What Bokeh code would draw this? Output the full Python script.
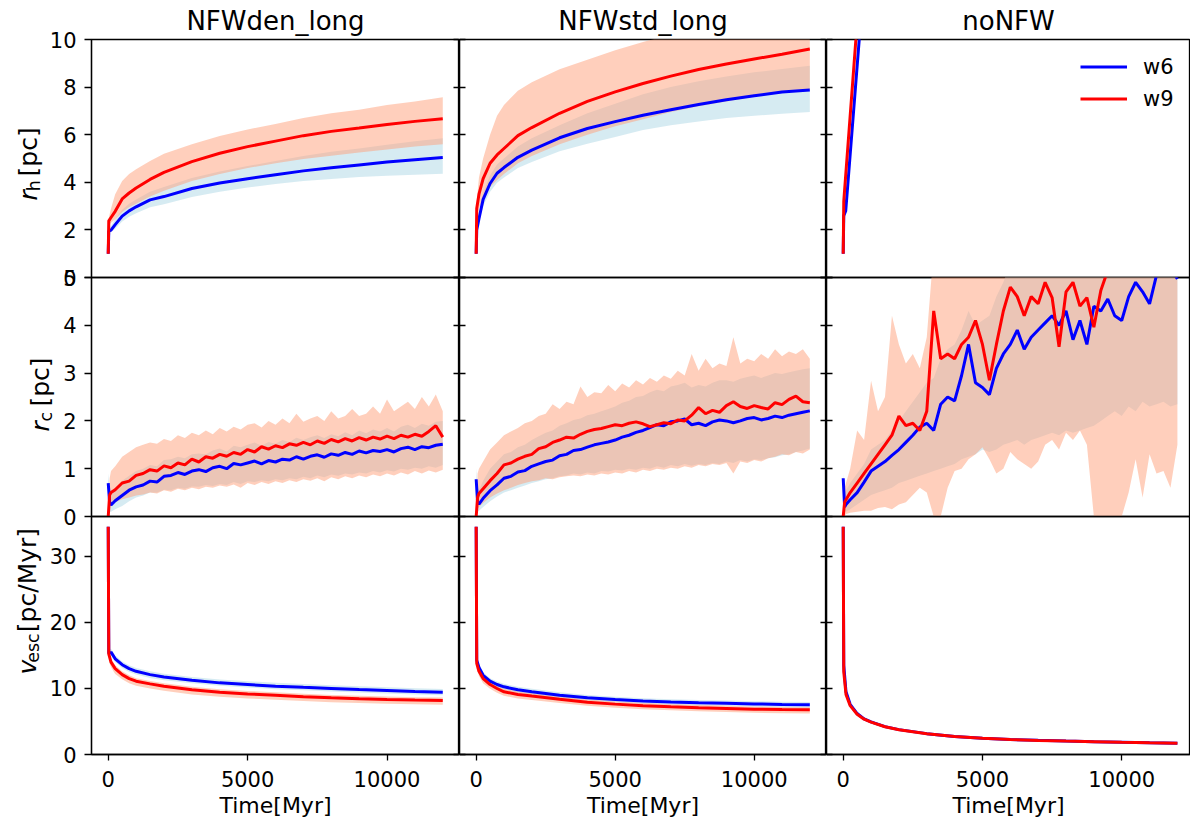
import numpy as np
from bokeh.plotting import figure
from bokeh.layouts import row, column
from bokeh.models import Range1d, FixedTicker, LinearAxis, Legend, LegendItem
from bokeh.core.properties import value
from bokeh.embed import file_html
from bokeh.resources import INLINE

FONT = "DejaVu Sans"

# ---------------- data ----------------
TITLES = ["NFWden_long", "NFWstd_long", "noNFW"]
X_TICKS = [0, 5000, 10000]
Y_TICKS = [[0, 2, 4, 6, 8, 10], [0, 1, 2, 3, 4, 5], [0, 10, 20, 30]]
Y_MAX = [10, 5, 36.05]
X_LABEL = "Time[Myr]"
LEGEND_LABELS = ["w6", "w9"]

# time grids (Myr)
T_S = [0, 20, 100, 250, 500, 750, 1000, 1500, 2000, 3000, 4000, 5000, 6000, 7000, 8000, 9000, 10000, 11000, 12000]
T_RC = [0, 50, 100] + list(range(250, 12001, 250))
T_RH_NO = [0, 20, 90, 1000]

# half-mass radius r_h [pc]
RH_DEN_W6 = [1.0, 1.95, 1.99, 2.22, 2.58, 2.80, 2.97, 3.26, 3.40, 3.74, 3.97, 4.15, 4.32, 4.48, 4.61, 4.73, 4.85, 4.95, 5.04]
RH_DEN_W6_LO = [1.0, 1.9, 1.9, 2.05, 2.35, 2.55, 2.7, 2.95, 3.08, 3.38, 3.6, 3.78, 3.93, 4.05, 4.14, 4.22, 4.28, 4.32, 4.36]
RH_DEN_W6_HI = [1.0, 2.1, 2.15, 2.45, 2.85, 3.1, 3.28, 3.6, 3.8, 4.18, 4.45, 4.68, 4.9, 5.1, 5.28, 5.42, 5.58, 5.72, 5.85]
RH_DEN_W9 = [1.0, 2.38, 2.52, 2.78, 3.3, 3.55, 3.76, 4.12, 4.42, 4.87, 5.22, 5.5, 5.73, 5.96, 6.14, 6.28, 6.43, 6.56, 6.67]
RH_DEN_W9_LO = [1.0, 2.2, 2.3, 2.45, 2.75, 2.95, 3.1, 3.4, 3.65, 4.05, 4.35, 4.6, 4.8, 4.98, 5.12, 5.25, 5.38, 5.5, 5.6]
RH_DEN_W9_HI = [1.0, 2.5, 2.9, 3.5, 4.05, 4.35, 4.55, 4.9, 5.2, 5.6, 5.95, 6.22, 6.45, 6.7, 6.9, 7.05, 7.25, 7.4, 7.57]

RH_STD_W6 = [1.0, 2.0, 2.47, 3.28, 3.95, 4.38, 4.62, 5.05, 5.35, 5.87, 6.26, 6.55, 6.82, 7.05, 7.27, 7.47, 7.64, 7.79, 7.88]
RH_STD_W6_LO = [1.0, 1.9, 2.3, 3.0, 3.6, 3.98, 4.2, 4.6, 4.85, 5.3, 5.62, 5.9, 6.2, 6.4, 6.55, 6.7, 6.8, 6.88, 6.95]
RH_STD_W6_HI = [1.0, 2.2, 2.7, 3.55, 4.3, 4.75, 5.0, 5.5, 5.85, 6.4, 6.9, 7.3, 7.7, 8.0, 8.25, 8.45, 8.62, 8.76, 8.9]
RH_STD_W9 = [1.0, 2.9, 3.5, 4.15, 4.8, 5.15, 5.42, 5.96, 6.3, 6.9, 7.4, 7.8, 8.15, 8.46, 8.74, 8.97, 9.18, 9.38, 9.6]
RH_STD_W9_LO = [1.0, 2.6, 2.9, 3.3, 3.8, 4.1, 4.35, 4.8, 5.1, 5.6, 6.0, 6.35, 6.65, 6.95, 7.2, 7.4, 7.6, 7.75, 7.9]
RH_STD_W9_HI = [1.0, 3.2, 4.2, 5.0, 6.0, 6.8, 7.25, 7.85, 8.2, 8.75, 9.15, 9.55, 9.9, 10.2, 10.5, 10.75, 10.95, 11.15, 11.35]

RH_NO_W6 = [1.0, 2.6, 2.8, 16.3]
RH_NO_W6_LO = [1.0, 2.45, 2.6, 15.6]
RH_NO_W6_HI = [1.0, 2.75, 3.0, 17.0]
RH_NO_W9 = [1.0, 3.2, 4.3, 18.5]
RH_NO_W9_LO = [1.0, 3.0, 4.05, 17.8]
RH_NO_W9_HI = [1.0, 3.4, 4.55, 19.2]

# core radius r_c [pc]
RC_DEN_W6 = [0.70, 0.30, 0.24, 0.33, 0.44, 0.55, 0.62, 0.66, 0.74, 0.72, 0.84, 0.86, 0.92, 0.88, 0.95, 0.98, 0.94, 1.02, 1.05, 1.00, 1.11, 1.08, 1.12, 1.16, 1.10, 1.17, 1.14, 1.20, 1.18, 1.25, 1.20, 1.26, 1.29, 1.24, 1.31, 1.28, 1.34, 1.30, 1.37, 1.33, 1.38, 1.36, 1.40, 1.35, 1.42, 1.45, 1.40, 1.46, 1.44, 1.49, 1.51]
RC_DEN_W6_LO = [0.2, 0.1, 0.1, 0.15, 0.22, 0.32, 0.40, 0.44, 0.50, 0.50, 0.56, 0.55, 0.60, 0.58, 0.63, 0.62, 0.66, 0.64, 0.68, 0.66, 0.72, 0.68, 0.74, 0.72, 0.76, 0.74, 0.78, 0.76, 0.80, 0.78, 0.83, 0.80, 0.86, 0.82, 0.88, 0.85, 0.90, 0.88, 0.92, 0.90, 0.95, 0.92, 0.97, 0.94, 1.0, 0.98, 1.02, 1.0, 1.05, 1.02, 1.08]
RC_DEN_W6_HI = [0.9, 0.6, 0.5, 0.6, 0.75, 0.85, 0.95, 1.0, 1.08, 1.05, 1.18, 1.2, 1.25, 1.22, 1.3, 1.32, 1.3, 1.38, 1.42, 1.36, 1.48, 1.45, 1.5, 1.55, 1.48, 1.56, 1.52, 1.6, 1.56, 1.65, 1.6, 1.66, 1.7, 1.64, 1.72, 1.68, 1.76, 1.7, 1.8, 1.74, 1.82, 1.78, 1.85, 1.78, 1.88, 1.92, 1.85, 1.94, 1.9, 1.98, 2.0]
RC_DEN_W9 = [0.0, 0.45, 0.50, 0.56, 0.70, 0.74, 0.86, 0.90, 0.98, 0.95, 1.06, 1.02, 1.12, 1.08, 1.20, 1.14, 1.25, 1.22, 1.30, 1.26, 1.34, 1.30, 1.40, 1.35, 1.46, 1.41, 1.48, 1.44, 1.52, 1.49, 1.55, 1.50, 1.58, 1.53, 1.61, 1.56, 1.63, 1.58, 1.65, 1.60, 1.66, 1.62, 1.68, 1.63, 1.70, 1.66, 1.72, 1.68, 1.78, 1.90, 1.66]
RC_DEN_W9_LO = [0.0, 0.2, 0.25, 0.30, 0.36, 0.40, 0.44, 0.46, 0.50, 0.48, 0.55, 0.52, 0.58, 0.55, 0.60, 0.57, 0.62, 0.60, 0.65, 0.62, 0.67, 0.60, 0.70, 0.66, 0.72, 0.68, 0.74, 0.70, 0.76, 0.72, 0.78, 0.75, 0.80, 0.74, 0.82, 0.78, 0.84, 0.80, 0.86, 0.82, 0.88, 0.84, 0.90, 0.86, 0.92, 0.88, 0.95, 0.90, 0.96, 0.92, 0.98]
RC_DEN_W9_HI = [0.0, 0.8, 0.95, 1.05, 1.25, 1.35, 1.45, 1.50, 1.55, 1.52, 1.62, 1.58, 1.70, 1.64, 1.75, 1.70, 1.80, 1.72, 1.85, 1.78, 1.88, 1.82, 1.92, 1.95, 1.86, 2.0, 1.92, 2.05, 1.95, 2.15, 1.98, 2.05, 2.1, 2.0, 2.2, 2.05, 2.1, 2.25, 2.1, 2.15, 2.3, 2.15, 2.45, 2.2, 2.3, 2.4, 2.25, 2.5, 2.3, 2.55, 2.2]

RC_STD_W6 = [0.78, 0.30, 0.26, 0.38, 0.54, 0.66, 0.80, 0.84, 0.93, 0.96, 1.05, 1.10, 1.15, 1.18, 1.27, 1.30, 1.38, 1.40, 1.45, 1.50, 1.53, 1.56, 1.60, 1.66, 1.70, 1.76, 1.80, 1.86, 1.92, 1.90, 1.98, 2.00, 2.04, 1.92, 1.95, 1.90, 1.98, 2.02, 2.00, 1.96, 2.00, 2.05, 2.07, 2.02, 2.05, 2.10, 2.07, 2.12, 2.15, 2.18, 2.21]
RC_STD_W6_LO = [0.5, 0.1, 0.12, 0.2, 0.32, 0.42, 0.5, 0.55, 0.6, 0.65, 0.7, 0.74, 0.78, 0.8, 0.84, 0.86, 0.9, 0.88, 0.92, 0.9, 0.95, 0.94, 0.98, 0.96, 1.0, 0.98, 1.02, 1.0, 1.05, 1.02, 1.08, 1.05, 1.1, 1.06, 1.1, 1.08, 1.12, 1.1, 1.15, 1.12, 1.18, 1.15, 1.2, 1.18, 1.22, 1.24, 1.28, 1.3, 1.35, 1.38, 1.42]
RC_STD_W6_HI = [1.0, 0.6, 0.55, 0.75, 1.0, 1.15, 1.3, 1.35, 1.45, 1.5, 1.6, 1.68, 1.75, 1.8, 1.9, 1.95, 2.02, 2.05, 2.12, 2.15, 2.2, 2.25, 2.3, 2.38, 2.42, 2.5, 2.52, 2.6, 2.65, 2.62, 2.72, 2.75, 2.8, 2.7, 2.75, 2.72, 2.8, 2.85, 2.85, 2.82, 2.88, 2.92, 2.95, 2.9, 2.95, 3.0, 2.98, 3.02, 3.05, 3.08, 3.1]
RC_STD_W9 = [0.0, 0.40, 0.48, 0.58, 0.75, 0.90, 1.08, 1.12, 1.20, 1.26, 1.30, 1.42, 1.46, 1.55, 1.60, 1.66, 1.64, 1.72, 1.78, 1.82, 1.84, 1.88, 1.92, 1.90, 1.95, 1.98, 1.94, 1.88, 1.92, 1.96, 1.94, 2.02, 2.0, 2.12, 2.28, 2.15, 2.22, 2.18, 2.32, 2.40, 2.30, 2.26, 2.32, 2.28, 2.25, 2.38, 2.34, 2.45, 2.52, 2.40, 2.38]
RC_STD_W9_LO = [0.0, 0.15, 0.2, 0.28, 0.40, 0.48, 0.55, 0.60, 0.66, 0.70, 0.74, 0.76, 0.80, 0.78, 0.82, 0.84, 0.86, 0.84, 0.88, 0.86, 0.90, 0.88, 0.92, 0.90, 0.95, 0.92, 0.98, 0.95, 1.0, 0.98, 1.02, 1.0, 1.05, 1.02, 1.08, 1.05, 1.10, 1.08, 1.12, 0.90, 1.15, 1.12, 1.18, 1.15, 1.22, 1.25, 1.30, 1.28, 1.35, 1.32, 1.40]
RC_STD_W9_HI = [0.0, 0.9, 1.0, 1.15, 1.40, 1.55, 1.70, 1.78, 1.85, 1.95, 2.0, 2.10, 2.15, 2.35, 2.25, 2.40, 2.35, 2.72, 2.50, 2.60, 2.58, 2.75, 2.62, 2.78, 2.70, 2.85, 2.76, 2.90, 2.82, 2.95, 2.88, 3.05, 2.95, 3.40, 3.05, 3.30, 3.10, 3.20, 3.15, 3.75, 3.20, 3.30, 3.25, 3.40, 3.30, 3.50, 3.35, 3.45, 3.40, 3.50, 3.30]

RC_NO_W6 = [0.8, 0.2, 0.25, 0.35, 0.5, 0.72, 0.95, 1.05, 1.15, 1.28, 1.4, 1.55, 1.7, 1.87, 1.95, 1.8, 2.35, 2.5, 2.42, 2.95, 3.6, 2.8, 2.7, 2.55, 3.1, 3.4, 3.6, 3.9, 3.5, 3.75, 3.9, 4.05, 4.2, 4.0, 4.3, 3.7, 4.1, 3.6, 4.4, 4.3, 4.55, 4.2, 4.1, 4.6, 4.9, 4.7, 4.45, 5.05, 5.1, 5.2, 4.97]
RC_NO_W6_LO = [0.5, 0.1, 0.1, 0.15, 0.25, 0.35, 0.45, 0.5, 0.55, 0.6, 0.7, 0.75, 0.8, 0.85, 0.9, 0.95, 1.0, 1.05, 1.1, 1.2, 1.25, 1.3, 1.4, 1.35, 1.4, 1.5, 1.55, 1.6, 1.5, 1.6, 1.65, 1.7, 1.75, 1.7, 1.8, 1.75, 1.8, 1.85, 1.9, 2.0, 2.1, 2.2, 2.1, 2.3, 2.2, 2.4, 2.3, 2.35, 2.4, 2.3, 2.35]
RC_NO_W6_HI = [0.9, 0.5, 0.55, 0.7, 0.9, 1.1, 1.4, 1.5, 1.6, 1.8, 2.0, 2.2, 2.4, 2.6, 2.8, 2.9, 3.3, 3.5, 3.6, 3.9, 4.3, 4.0, 4.1, 4.2, 4.6, 4.9, 5.3, 5.6, 5.4, 5.7, 5.9, 6.0, 6.2, 6.0, 6.3, 6.1, 6.4, 6.2, 6.5, 6.6, 6.8, 6.7, 6.9, 7.0, 7.2, 7.1, 7.3, 7.4, 7.5, 7.4, 7.6]
RC_NO_W9 = [0.0, 0.3, 0.35, 0.5, 0.7, 0.9, 1.1, 1.3, 1.5, 1.7, 2.1, 1.9, 1.95, 1.8, 2.2, 4.3, 3.3, 3.4, 3.3, 3.6, 3.75, 4.1, 3.6, 2.85, 3.6, 4.3, 4.8, 4.6, 4.2, 4.6, 4.45, 4.9, 4.58, 3.55, 4.7, 4.9, 4.4, 4.58, 3.96, 4.73, 5.15, 5.4, 5.6, 5.3, 5.7, 5.5, 5.8, 5.6, 5.9, 5.7, 5.8]
RC_NO_W9_LO = [0.0, 0.0, 0.05, 0.08, 0.1, 0.12, 0.12, 0.18, 0.2, 0.15, 0.25, 0.3, 0.45, 0.6, 0.5, 0.0, 0.0, 0.6, 0.95, 1.0, 1.2, 1.3, 1.45, 1.2, 0.9, 1.0, 1.35, 1.2, 1.1, 1.0, 1.15, 1.5, 1.6, 1.4, 1.75, 1.6, 1.8, 1.5, 0.0, 0.0, 0.0, 0.0, 0.0, 0.5, 1.2, 0.4, 1.3, 0.9, 0.95, 0.6, 1.5]
RC_NO_W9_HI = [0.0, 0.6, 0.7, 1.0, 1.8, 1.6, 2.84, 2.2, 2.5, 4.2, 3.6, 3.2, 3.4, 3.1, 3.75, 5.6, 5.8, 6.0, 6.1, 6.3, 6.4, 6.6, 6.5, 6.8, 7.0, 7.1, 7.3, 7.2, 7.5, 7.6, 7.8, 7.7, 8.0, 8.1, 8.3, 8.2, 8.5, 8.6, 8.8, 8.7, 9.0, 9.1, 9.3, 9.2, 9.5, 9.6, 9.8, 9.7, 10.0, 10.1, 10.2]

# escape velocity v_esc [pc/Myr]
V_DEN_W6 = [34.5, 15.3, 15.5, 14.5, 13.6, 13.0, 12.6, 12.1, 11.75, 11.25, 10.85, 10.6, 10.35, 10.17, 10.0, 9.83, 9.7, 9.55, 9.43]
V_DEN_W6_LO = [34.0, 14.8, 15.0, 14.0, 13.1, 12.5, 12.1, 11.6, 11.25, 10.8, 10.4, 10.15, 9.9, 9.72, 9.55, 9.38, 9.25, 9.1, 8.98]
V_DEN_W6_HI = [35.0, 15.8, 16.0, 15.0, 14.1, 13.5, 13.1, 12.6, 12.25, 11.75, 11.35, 11.1, 10.85, 10.67, 10.5, 10.33, 10.2, 10.05, 9.93]
V_DEN_W9 = [34.5, 15.2, 14.0, 13.0, 12.1, 11.5, 11.1, 10.7, 10.35, 9.8, 9.43, 9.18, 8.97, 8.76, 8.58, 8.45, 8.33, 8.24, 8.17]
V_DEN_W9_LO = [33.8, 14.2, 13.2, 12.2, 11.4, 10.8, 10.4, 10.0, 9.65, 9.1, 8.75, 8.5, 8.3, 8.1, 7.93, 7.8, 7.68, 7.6, 7.53]
V_DEN_W9_HI = [35.0, 15.6, 14.5, 13.5, 12.6, 12.0, 11.55, 11.15, 10.8, 10.25, 9.88, 9.63, 9.42, 9.21, 9.03, 8.9, 8.78, 8.69, 8.62]

V_STD_W6 = [34.5, 14.3, 13.2, 12.0, 11.1, 10.6, 10.25, 9.8, 9.5, 8.98, 8.58, 8.33, 8.1, 7.95, 7.82, 7.76, 7.66, 7.58, 7.52]
V_STD_W6_LO = [34.0, 13.8, 12.7, 11.5, 10.65, 10.15, 9.8, 9.35, 9.05, 8.55, 8.15, 7.9, 7.68, 7.53, 7.4, 7.34, 7.24, 7.16, 7.1]
V_STD_W6_HI = [35.0, 14.8, 13.7, 12.5, 11.55, 11.05, 10.7, 10.25, 9.95, 9.42, 9.02, 8.76, 8.52, 8.37, 8.24, 8.18, 8.08, 8.0, 7.94]
V_STD_W9 = [34.5, 13.8, 12.6, 11.5, 10.6, 10.0, 9.5, 9.1, 8.85, 8.37, 7.93, 7.63, 7.4, 7.24, 7.09, 6.98, 6.86, 6.8, 6.76]
V_STD_W9_LO = [33.8, 13.0, 11.9, 10.8, 9.95, 9.35, 8.9, 8.5, 8.25, 7.8, 7.37, 7.07, 6.85, 6.7, 6.55, 6.44, 6.32, 6.26, 6.22]
V_STD_W9_HI = [35.0, 14.3, 13.1, 12.0, 11.05, 10.45, 9.95, 9.55, 9.28, 8.78, 8.34, 8.03, 7.8, 7.63, 7.48, 7.37, 7.25, 7.19, 7.15]

V_NO_W6 = [34.5, 13.5, 9.5, 7.6, 6.2, 5.4, 4.93, 4.22, 3.77, 3.16, 2.73, 2.46, 2.28, 2.14, 2.04, 1.95, 1.87, 1.79, 1.72]
V_NO_W6_LO = [34.2, 13.1, 9.2, 7.35, 6.0, 5.22, 4.77, 4.08, 3.65, 3.06, 2.64, 2.38, 2.2, 2.07, 1.97, 1.88, 1.8, 1.73, 1.66]
V_NO_W6_HI = [34.8, 13.9, 9.8, 7.85, 6.4, 5.58, 5.09, 4.36, 3.89, 3.26, 2.82, 2.54, 2.36, 2.21, 2.11, 2.02, 1.94, 1.85, 1.78]
V_NO_W9 = [34.5, 12.5, 9.1, 7.4, 6.1, 5.35, 4.9, 4.2, 3.75, 3.15, 2.72, 2.45, 2.27, 2.13, 2.03, 1.95, 1.86, 1.78, 1.71]
V_NO_W9_LO = [34.1, 12.1, 8.8, 7.15, 5.88, 5.16, 4.73, 4.05, 3.62, 3.04, 2.62, 2.36, 2.19, 2.05, 1.96, 1.88, 1.79, 1.72, 1.65]
V_NO_W9_HI = [34.9, 12.9, 9.4, 7.65, 6.32, 5.54, 5.07, 4.35, 3.88, 3.26, 2.82, 2.54, 2.35, 2.21, 2.1, 2.02, 1.93, 1.84, 1.77]

PANELS = [
    [(T_S, RH_DEN_W6, RH_DEN_W6_LO, RH_DEN_W6_HI, RH_DEN_W9, RH_DEN_W9_LO, RH_DEN_W9_HI),
     (T_S, RH_STD_W6, RH_STD_W6_LO, RH_STD_W6_HI, RH_STD_W9, RH_STD_W9_LO, RH_STD_W9_HI),
     (T_RH_NO, RH_NO_W6, RH_NO_W6_LO, RH_NO_W6_HI, RH_NO_W9, RH_NO_W9_LO, RH_NO_W9_HI)],
    [(T_RC, RC_DEN_W6, RC_DEN_W6_LO, RC_DEN_W6_HI, RC_DEN_W9, RC_DEN_W9_LO, RC_DEN_W9_HI),
     (T_RC, RC_STD_W6, RC_STD_W6_LO, RC_STD_W6_HI, RC_STD_W9, RC_STD_W9_LO, RC_STD_W9_HI),
     (T_RC, RC_NO_W6, RC_NO_W6_LO, RC_NO_W6_HI, RC_NO_W9, RC_NO_W9_LO, RC_NO_W9_HI)],
    [(T_S, V_DEN_W6, V_DEN_W6_LO, V_DEN_W6_HI, V_DEN_W9, V_DEN_W9_LO, V_DEN_W9_HI),
     (T_S, V_STD_W6, V_STD_W6_LO, V_STD_W6_HI, V_STD_W9, V_STD_W9_LO, V_STD_W9_HI),
     (T_S, V_NO_W6, V_NO_W6_LO, V_NO_W6_HI, V_NO_W9, V_NO_W9_LO, V_NO_W9_HI)],
]

# y-axis titles, split into (text, style, scale, subscript) pieces
YLABELS = [
    [("r", "italic", 1.0, False), ("h", "normal", 0.7, True), ("[pc]", "normal", 1.0, False)],
    [("r", "italic", 1.0, False), ("c", "normal", 0.7, True), ("[pc]", "normal", 1.0, False)],
    [("v", "italic", 1.0, False), ("esc", "normal", 0.7, True), ("[pc/Myr]", "normal", 1.0, False)],
]

# ---------------- layout / style ----------------
BLUE, RED = "#0000FF", "#FF0000"
BAND_BLUE, BAND_RED = "#ADD8E6", "#FFA07A"
PAD = 14                      # overlap strip so edge tick labels are not cut
LAB_W = 91                    # width of the y-title strip (overlapped by column 1)
LEFT_B = 46                   # column-1 left border (tick labels)
COL_W = [LEFT_B + 368, 367, 364]
FRAME_H = [239, 239, 238]
TOP_B = [38, PAD, PAD]
BOT_B = [PAD, PAD, 70]
X_RANGES = [(-600, 12600), (-600, 12600), (-600, 12470)]
TICK_PX = "21px"
TITLE_PX = "26px"
XLABEL_PX = 22
YLABEL_PX = 25
YLABEL_CX = [27.5, 39.5, 26.5]   # x of the centre line of each y title
YLABEL_GAPS = [[1.0, 7.0, 0.0], [1.0, 7.0, 0.0], [1.0, 12.0, 0.0]]
ADV = {'r': 0.411, 'h': 0.634, 'c': 0.550, 'v': 0.592, 'e': 0.615, 's': 0.521,
       '[': 0.390, 'p': 0.635, ']': 0.390, '/': 0.337, 'M': 0.863, 'y': 0.592}


def style_fig(p):
    p.grid.visible = False
    p.background_fill_alpha = 0
    p.border_fill_alpha = 0


def ylabel_fig(r):
    H = TOP_B[r] + FRAME_H[r] + BOT_B[r]
    lp = figure(width=LAB_W, height=H, x_range=Range1d(0, LAB_W), y_range=Range1d(0, H),
                output_backend="svg", toolbar_location=None, tools="",
                min_border_left=0, min_border_right=0, min_border_top=0, min_border_bottom=0)
    style_fig(lp)
    lp.axis.visible = False
    lp.outline_line_color = None
    parts = YLABELS[r]
    widths = [sum(ADV[ch] for ch in t) * YLABEL_PX * sc + g
              for (t, _, sc, _), g in zip(parts, YLABEL_GAPS[r])]
    yc = H - (TOP_B[r] + FRAME_H[r] / 2)
    y = yc - sum(widths) / 2
    for (t, st, sc, sub), w in zip(parts, widths):
        lp.text(x=[YLABEL_CX[r] + (6.0 if sub else 0)], y=[y], text=[t],
                angle=np.pi / 2, text_font=value(FONT),
                text_font_size=value(f"{YLABEL_PX * sc:.1f}px"), text_font_style=st,
                text_align="left", text_baseline="middle", text_color="black")
        y += w
    return lp


rows = []
for r in range(3):
    figs = [ylabel_fig(r)]
    for c in range(3):
        p = figure(width=COL_W[c], height=TOP_B[r] + FRAME_H[r] + BOT_B[r],
                   x_range=Range1d(*X_RANGES[c]), y_range=Range1d(0, Y_MAX[r]),
                   output_backend="svg", toolbar_location=None, tools="",
                   title=TITLES[c] if r == 0 else None,
                   min_border_left=LEFT_B if c == 0 else 0, min_border_right=0,
                   min_border_top=TOP_B[r], min_border_bottom=BOT_B[r],
                   margin=(0, 0, 0, -LEFT_B) if c == 0 else (0, 0, 0, 0))
        style_fig(p)
        p.outline_line_color = "black"
        p.outline_line_width = 1.3
        if r == 0:
            p.title.text_font = FONT
            p.title.text_font_size = TITLE_PX
            p.title.text_font_style = "normal"
            p.title.align = "center"
            p.title.text_color = "black"
            p.title.standoff = 7

        ya = p.yaxis[0]
        ya.ticker = FixedTicker(ticks=Y_TICKS[r])
        ya.minor_tick_line_color = None
        ya.axis_line_color = "black"
        ya.axis_line_width = 1.3
        ya.major_tick_line_width = 1.3
        if c == 0:
            ya.major_tick_out = 7
            ya.major_tick_in = 0
            ya.major_label_text_font = FONT
            ya.major_label_text_font_size = TICK_PX
            ya.major_label_text_color = "black"
            ya.major_label_standoff = 8
        else:
            ya.major_tick_out = 0
            ya.major_tick_in = 6
            ya.major_label_text_font_size = "0px"
            ya.major_label_text_color = None
            ya.major_label_standoff = 0
        if c < 2:
            ra = LinearAxis(ticker=FixedTicker(ticks=Y_TICKS[r]), major_tick_out=0, major_tick_in=6,
                            major_tick_line_width=1.3, minor_tick_line_color=None,
                            major_label_text_font_size="0px", major_label_text_color=None,
                            major_label_standoff=0, axis_line_color="black", axis_line_width=1.3)
            p.add_layout(ra, "right")

        xa = p.xaxis[0]
        if r == 2:
            xa.ticker = FixedTicker(ticks=X_TICKS)
            xa.minor_tick_line_color = None
            xa.major_tick_out = 6
            xa.major_tick_in = 0
            xa.major_tick_line_width = 1.3
            xa.axis_line_width = 1.3
            xa.major_label_text_font = FONT
            xa.major_label_text_font_size = TICK_PX
            xa.major_label_text_color = "black"
            xa.major_label_standoff = 10
            xa.axis_label = X_LABEL
            xa.axis_label_text_font = FONT
            xa.axis_label_text_font_size = f"{XLABEL_PX}px"
            xa.axis_label_text_font_style = "normal"
            xa.axis_label_text_color = "black"
            xa.axis_label_standoff = 3
        else:
            xa.visible = False

        t, b, b_lo, b_hi, rr, r_lo, r_hi = PANELS[r][c]
        p.varea(x=t, y1=b_lo, y2=b_hi, fill_color=BAND_BLUE, fill_alpha=0.5)
        p.varea(x=t, y1=r_lo, y2=r_hi, fill_color=BAND_RED, fill_alpha=0.5)
        lb = p.line(x=t, y=b, line_color=BLUE, line_width=3)
        lr = p.line(x=t, y=rr, line_color=RED, line_width=3)

        if r == 0 and c == 2:
            leg = Legend(items=[LegendItem(label=LEGEND_LABELS[0], renderers=[lb]),
                                LegendItem(label=LEGEND_LABELS[1], renderers=[lr])],
                         location=(254, 166), orientation="vertical",
                         glyph_width=47, glyph_height=25, label_height=25,
                         label_standoff=16, spacing=7, padding=0, margin=0,
                         border_line_color=None, background_fill_alpha=0,
                         label_text_font=FONT, label_text_font_size="21px",
                         label_text_color="black")
            p.add_layout(leg)
        figs.append(p)
    rows.append(row(*figs, margin=(0 if r == 0 else -2 * PAD, 0, 0, 0)))

layout = column(*rows)
open("out.html", "w").write(file_html(layout, INLINE))
